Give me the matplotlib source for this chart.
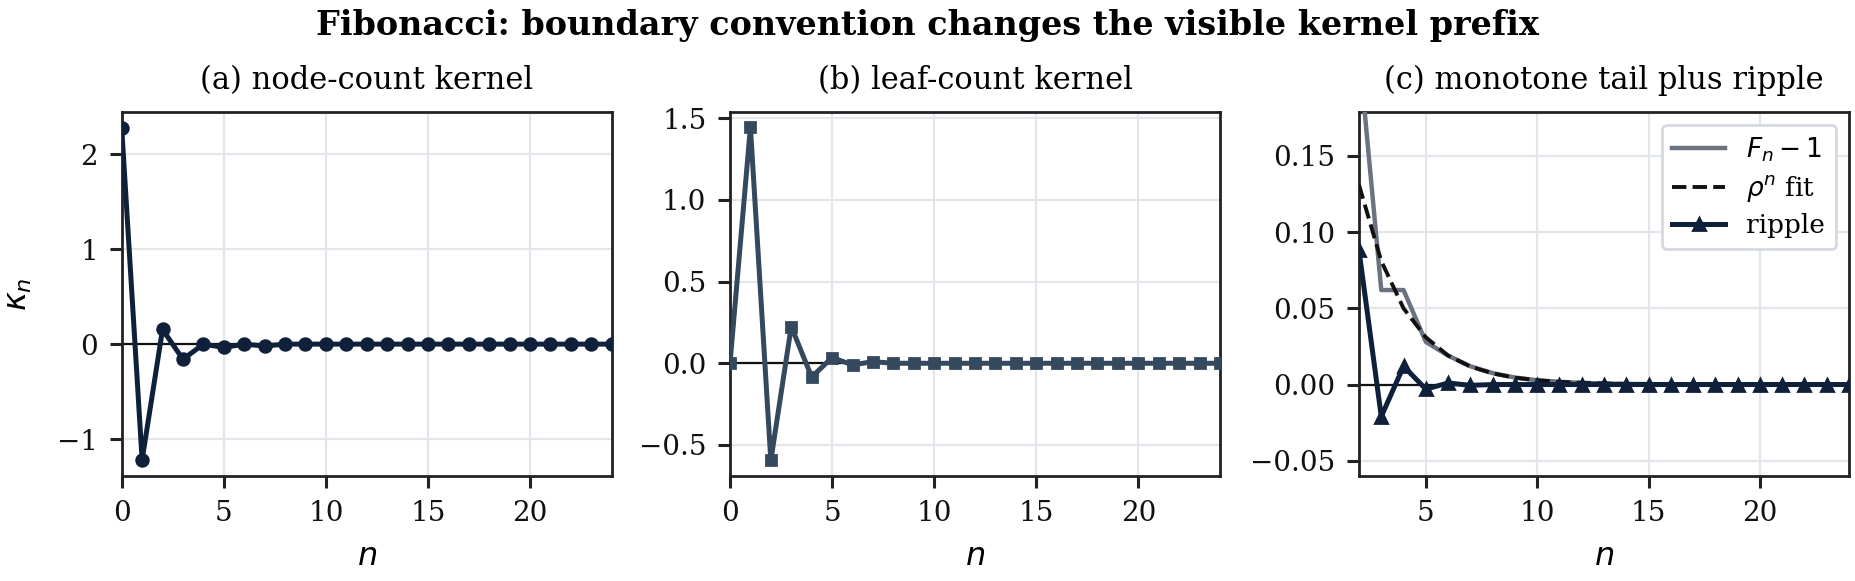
import matplotlib
matplotlib.use('Agg')
import matplotlib.pyplot as plt

# ── Data ──
n_ab = list(range(0, 25))
node_kernel = [2.28, -1.22, 0.155, -0.16, 0.0, -0.035, 0.0, -0.02, 0.0, 0.0,
               0.0, 0.0, 0.0, 0.0, 0.0, 0.0, 0.0, 0.0, 0.0, 0.0,
               0.0, 0.0, 0.0, 0.0, 0.0]
leaf_kernel = [0.0, 1.446, -0.595, 0.225, -0.084, 0.035, -0.01, 0.01, 0.0, 0.0,
               0.0, 0.0, 0.0, 0.0, 0.0, 0.0, 0.0, 0.0, 0.0, 0.0,
               0.0, 0.0, 0.0, 0.0, 0.0]

n_c = list(range(2, 25))
tail_fn = [0.219, 0.062, 0.062, 0.028, 0.019, 0.012, 0.0075, 0.0046, 0.0028, 0.0018,
           0.0011, 0.0007, 0.0004, 0.0003, 0.0002, 0.0001, 0.0001, 0.0, 0.0, 0.0,
           0.0, 0.0, 0.0]
rho_fit = [0.131, 0.081, 0.050, 0.031, 0.019, 0.0118, 0.0073, 0.0045, 0.0028, 0.0017,
           0.0011, 0.0007, 0.0004, 0.0003, 0.0002, 0.0001, 0.0001, 0.0, 0.0, 0.0,
           0.0, 0.0, 0.0]
ripple = [0.088, -0.021, 0.012, -0.003, 0.001, -0.0005, 0.0, 0.0, 0.0, 0.0,
          0.0, 0.0, 0.0, 0.0, 0.0, 0.0, 0.0, 0.0, 0.0, 0.0,
          0.0, 0.0, 0.0]

NAVY = '#0f203b'
SLATE = '#34495e'
GRAY = '#6b7280'
GRID = '#e3e5ea'
SPINE = '#222222'

plt.rcParams.update({
    'font.family': 'DejaVu Serif',
    'mathtext.fontset': 'dejavusans',
    'font.size': 10,
    'axes.edgecolor': SPINE,
    'axes.linewidth': 1.0,
    'xtick.color': SPINE,
    'ytick.color': SPINE,
    'xtick.labelcolor': '#111111',
    'ytick.labelcolor': '#111111',
    'xtick.major.width': 1.1,
    'ytick.major.width': 1.1,
    'xtick.major.size': 4.3,
    'ytick.major.size': 4.3,
    'xtick.major.pad': 4.2,
    'ytick.major.pad': 4.2,
})

fig = plt.figure(figsize=(9.275, 2.905), dpi=200)
W, H = 1855, 581
lefts = [121.7, 730, 1359]
axes = []
for lx in lefts:
    ax = fig.add_axes([lx / W, 1 - 476 / H, 490 / W, (476 - 111.7) / H])
    axes.append(ax)


def style(ax):
    ax.grid(True, color=GRID, linewidth=0.8)
    ax.set_axisbelow(True)
    ax.axhline(0, color='#111111', linewidth=0.8, zorder=1)
    ax.set_xlabel('$n$', fontsize=11.5)
    ax.xaxis.set_label_coords(0.5, -0.178)


# ── (a) node-count kernel ──
ax = axes[0]
style(ax)
ax.plot(n_ab, node_kernel, color=NAVY, marker='o', markersize=4.2, linewidth=1.8,
        clip_on=True, zorder=3)
ax.set_xlim(0, 24)
ax.set_ylim(-1.39, 2.45)
ax.set_xticks([0, 5, 10, 15, 20])
ax.set_yticks([-1, 0, 1, 2])
ax.set_ylabel(r'$\kappa_n$', fontsize=11.5)
ax.yaxis.set_label_coords(-0.179, 0.5)
ax.set_title('(a) node-count kernel', fontsize=11, pad=8)

# ── (b) leaf-count kernel ──
ax = axes[1]
style(ax)
ax.plot(n_ab, leaf_kernel, color=SLATE, marker='s', markersize=3.8, linewidth=1.8,
        zorder=3)
ax.set_xlim(0, 24)
ax.set_ylim(-0.69, 1.54)
ax.set_xticks([0, 5, 10, 15, 20])
ax.set_yticks([-0.5, 0.0, 0.5, 1.0, 1.5])
ax.set_title('(b) leaf-count kernel', fontsize=11, pad=8)

# ── (c) monotone tail plus ripple ──
ax = axes[2]
style(ax)
ax.plot(n_c, tail_fn, color=GRAY, linewidth=1.6, label=r'$F_n - 1$', zorder=3)
ax.plot(n_c, rho_fit, color='#111111', linestyle='--', linewidth=1.4,
        label=r'$\rho^n$ fit', zorder=4)
ax.plot(n_c, ripple, color=NAVY, marker='^', markersize=4.5, linewidth=1.8,
        label='ripple', zorder=5)
ax.set_xlim(2, 24)
ax.set_ylim(-0.06, 0.179)
ax.set_xticks([5, 10, 15, 20])
ax.set_yticks([-0.05, 0.0, 0.05, 0.10, 0.15])
ax.set_title('(c) monotone tail plus ripple', fontsize=11, pad=8)
leg = ax.legend(loc='upper right', fontsize=9.5, frameon=True, fancybox=True,
                framealpha=1.0, edgecolor='#d5d9e0', borderpad=0.4,
                handlelength=2.0, labelspacing=0.35)
leg.get_frame().set_linewidth(1.0)

fig.suptitle('Fibonacci: boundary convention changes the visible kernel prefix',
             fontsize=12, fontweight='bold', y=0.985)

fig.savefig('out.png', dpi=200, facecolor='white')
